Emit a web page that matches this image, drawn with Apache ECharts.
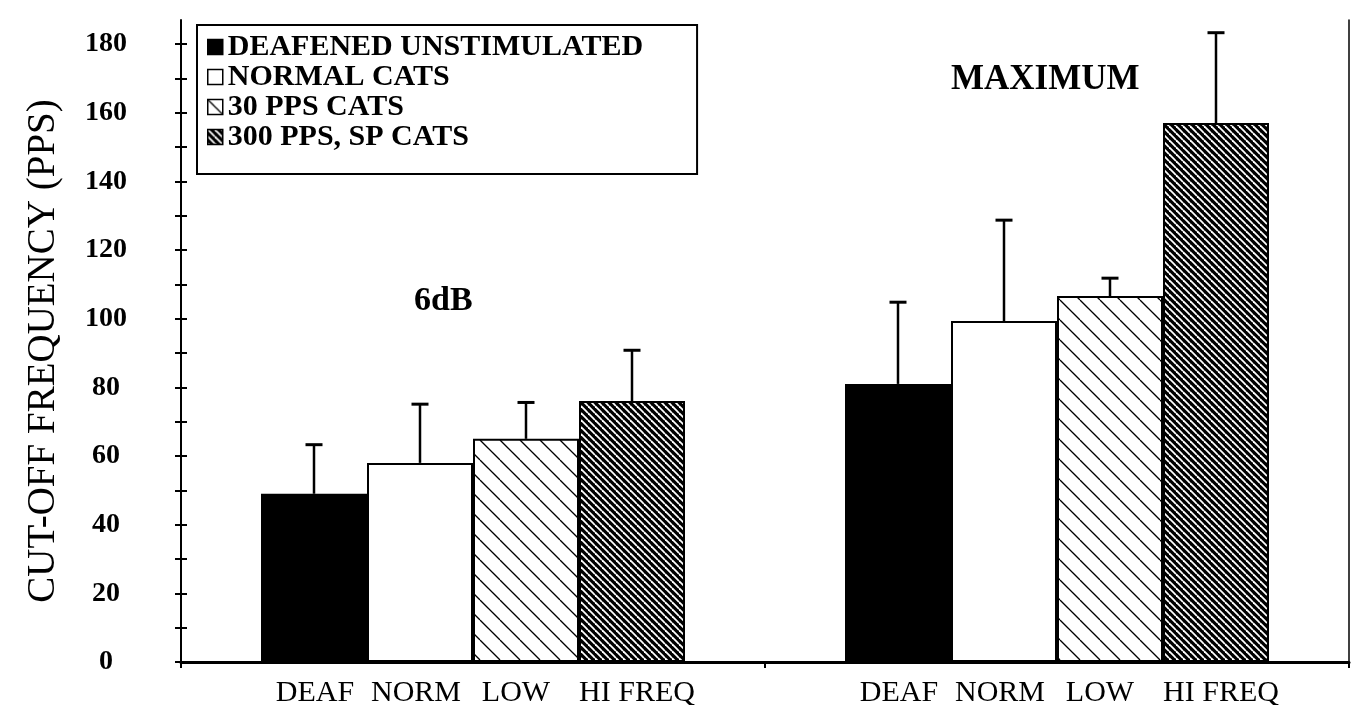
<!DOCTYPE html>
<html>
<head>
<meta charset="utf-8">
<script src="https://cdn.jsdelivr.net/npm/echarts@6/dist/echarts.min.js"></script>
<style>
  html, body { margin: 0; padding: 0; background: #fff; }
  #chart { width: 1351px; height: 705px; }
</style>
</head>
<body>
<div id="chart"></div>
<script>
// Stimulus groups along the x axis
const groups = ['6dB', 'MAXIMUM'];
// Animal groups (legend entries) and their short labels under each bar
const seriesNames = ['DEAFENED UNSTIMULATED', 'NORMAL CATS', '30 PPS CATS', '300 PPS, SP CATS'];
const barLabels = ['DEAF', 'NORM', 'LOW', 'HI FREQ'];

// Mean cut-off frequency (pps) per group: [6dB, MAXIMUM]
const deafValues = [49, 81];
const normValues = [58, 99.3];
const lowValues = [65, 106.6];
const hiValues = [76, 157];

// Upper error bar length (pps)
const deafErr = [14.3, 23.8];
const normErr = [17.1, 29.4];
const lowErr = [10.6, 5.2];
const hiErr = [14.8, 26.3];

// Y axis tick labels and tick marks
const yLabelValues = [0, 20, 40, 60, 80, 100, 120, 140, 160, 180];
const yTickValues = [0, 10, 20, 30, 40, 50, 60, 70, 80, 90, 100, 110, 120, 130, 140, 150, 160, 170, 180];

const valueSets = [deafValues, normValues, lowValues, hiValues];
const errSets = [deafErr, normErr, lowErr, hiErr];

const SERIF = '"Liberation Serif", "Times New Roman", serif';
const BAR_W = 106;

// Diagonal "\" hatch fill built on a small tile
function hatch(size, bg, fg, lw) {
  const c = document.createElement('canvas');
  c.width = size; c.height = size;
  const ctx = c.getContext('2d');
  ctx.fillStyle = bg;
  ctx.fillRect(0, 0, size, size);
  ctx.strokeStyle = fg;
  ctx.lineWidth = lw;
  for (let k = -1; k <= 1; k++) {
    ctx.beginPath();
    ctx.moveTo(0, k * size);
    ctx.lineTo(size, size + k * size);
    ctx.stroke();
  }
  return { image: c, repeat: 'repeat' };
}

const fills = [
  '#000',
  '#fff',
  hatch(20, '#fff', '#000', 1.3),
  hatch(7, '#000', '#fff', 1.8)
];
const labelOffsets = [[1, 0], [-4, 0], [-10, 0], [5, 0]];

const chart = echarts.init(document.getElementById('chart'), null, { renderer: 'canvas' });

const barSeries = seriesNames.map((name, i) => ({
  name: name,
  type: 'bar',
  data: valueSets[i],
  barWidth: BAR_W,
  barGap: '0%',
  z: 2,
  itemStyle: { color: fills[i], borderColor: '#000', borderWidth: 2 },
  label: {
    show: true,
    position: 'bottom',
    distance: 16,
    offset: labelOffsets[i],
    formatter: barLabels[i],
    color: '#000',
    fontFamily: SERIF,
    fontSize: 30,
    fontWeight: 'normal'
  },
  emphasis: { disabled: true },
  animation: false
}));

const errSeries = seriesNames.map((name, i) => ({
  name: 'err ' + name,
  type: 'custom',
  z: 3,
  data: groups.map((g, j) => [j, valueSets[i][j], errSets[i][j]]),
  renderItem: function (params, api) {
    const layout = api.barLayout({ barWidth: BAR_W, barGap: '0%', count: 4 });
    const off = layout[i].offsetCenter;
    const base = api.coord([api.value(0), api.value(1)]);
    const top = api.coord([api.value(0), api.value(1) + api.value(2)]);
    const x = base[0] + off;
    return {
      type: 'group',
      children: [
        { type: 'line', shape: { x1: x, y1: base[1], x2: x, y2: top[1] },
          style: { stroke: '#000', lineWidth: 2.5 } },
        { type: 'line', shape: { x1: x - 8.5, y1: top[1], x2: x + 8.5, y2: top[1] },
          style: { stroke: '#000', lineWidth: 3 } }
      ]
    };
  },
  animation: false
}));

const option = {
  backgroundColor: '#fff',
  animation: false,
  grid: { left: 181, right: 2, top: 20, bottom: 43, containLabel: false },
  legend: {
    orient: 'vertical',
    left: 197,
    top: 25,
    data: seriesNames,
    icon: 'rect',
    itemWidth: 15,
    itemHeight: 15,
    itemGap: 0,
    itemTextGap: 17,
    padding: [7, 54, 22, 10],
    borderColor: '#000',
    borderWidth: 2,
    backgroundColor: '#fff',
    selectedMode: false,
    itemStyle: { borderColor: '#000', borderWidth: 1.5 },
    textStyle: { fontFamily: SERIF, fontSize: 30, fontWeight: 'bold', color: '#000' }
  },
  xAxis: {
    type: 'category',
    data: groups,
    axisLine: { show: true, lineStyle: { color: '#000', width: 3 } },
    axisTick: { show: true, length: 6, lineStyle: { color: '#000', width: 2 } },
    axisLabel: { show: false },
    splitLine: { show: false }
  },
  yAxis: [
    {
      type: 'value',
      min: 0,
      max: 187,
      name: 'CUT-OFF FREQUENCY (PPS)',
      nameLocation: 'middle',
      nameGap: 118,
      nameRotate: 90,
      nameTextStyle: { fontFamily: SERIF, fontSize: 39, color: '#000', padding: [0, 20, 0, 0] },
      axisLine: { show: true, lineStyle: { color: '#000', width: 2 } },
      axisTick: { show: true, length: 6, customValues: yTickValues, lineStyle: { color: '#000', width: 2 } },
      axisLabel: {
        show: true, customValues: yLabelValues, align: 'center', margin: 75,
        fontFamily: SERIF, fontSize: 28, fontWeight: 'bold', color: '#000'
      },
      splitLine: { show: false }
    },
    {
      type: 'value',
      min: 0,
      max: 187,
      position: 'left',
      axisLine: { show: false },
      axisTick: { show: true, inside: true, length: 6, customValues: yTickValues, lineStyle: { color: '#000', width: 2 } },
      axisLabel: { show: false },
      splitLine: { show: false }
    },
    {
      type: 'value',
      min: 0,
      max: 187,
      position: 'right',
      axisLine: { show: true, lineStyle: { color: '#000', width: 1.5 } },
      axisTick: { show: false },
      axisLabel: { show: false },
      splitLine: { show: false }
    }
  ],
  graphic: [
    { type: 'text', left: 414, top: 284,
      style: { text: '6dB', font: 'bold 34px ' + SERIF, fill: '#000' } },
    { type: 'text', left: 951, top: 62,
      style: { text: 'MAXIMUM', font: 'bold 35px ' + SERIF, fill: '#000' } }
  ],
  series: barSeries.concat(errSeries)
};

chart.setOption(option);
</script>
</body>
</html>
